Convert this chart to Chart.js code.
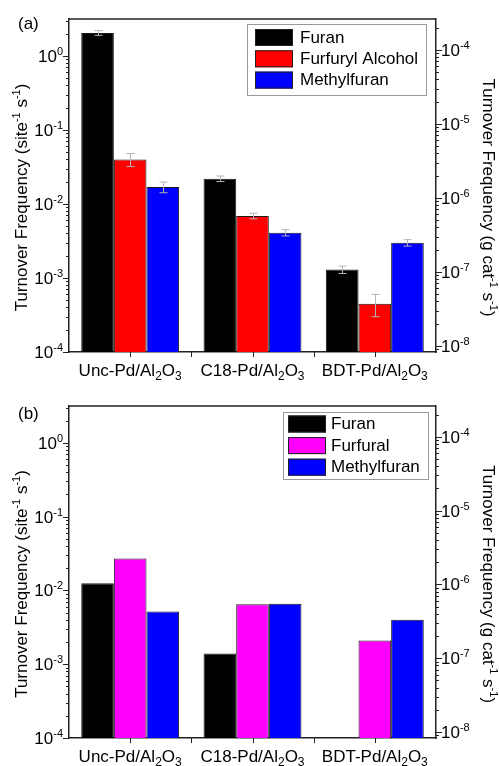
<!DOCTYPE html>
<html>
<head>
<meta charset="utf-8">
<script src="https://cdn.jsdelivr.net/npm/chart.js@4.4.1/dist/chart.umd.min.js"></script>
<style>
  body { margin: 0; background: #fff; }
  canvas { display: block; }
</style>
</head>
<body>
<canvas id="chartA" width="499" height="383"></canvas>
<canvas id="chartB" width="499" height="383"></canvas>
<script>
// categories (catalysts)
const catalysts = ['Unc-Pd/Al₂O₃', 'C18-Pd/Al₂O₃', 'BDT-Pd/Al₂O₃'];

// panel (a) - furfuryl alcohol feed, TOF in site-1 s-1
const seriesA = ['Furan', 'Furfuryl Alcohol', 'Methylfuran'];
const furanA = [2.05, 0.022, 0.0013];
const furfurylAlcoholA = [0.040, 0.0069, 0.00045];
const methylfuranA = [0.017, 0.0041, 0.0030];
const furanErrA = [0.15, 0.0019, 0.00015];
const furfurylAlcoholErrA = [0.008, 0.0006, 0.00015];
const methylfuranErrA = [0.0028, 0.0004, 0.0003];

// panel (b) - furfural feed
const seriesB = ['Furan', 'Furfural', 'Methylfuran'];
const furanB = [0.0125, 0.0014, null];
const furfuralB = [0.027, 0.0065, 0.0021];
const methylfuranB = [0.0052, 0.0066, 0.0040];

// axis ranges and titles
const yMin = 1e-4;
const yMax = 3.16;
const massFactor = 8.3e-5; // site-1 s-1 -> g cat-1 s-1 for the right axis
const leftTitle = 'Turnover Frequency (site⁻¹ s⁻¹)';
const rightTitle = 'Turnover Frequency (g cat⁻¹ s⁻¹)';

const colorsA = ['#000000', '#ff0000', '#0000ff'];
const colorsB = ['#000000', '#ff00ff', '#0000ff'];
const FONT = 'Liberation Sans, Arial, DejaVu Sans, sans-serif';

const SUP = {'-': '⁻', '0': '⁰', '1': '¹', '2': '²', '3': '³', '4': '⁴', '5': '⁵', '6': '⁶', '7': '⁷', '8': '⁸', '9': '⁹'};
function powerLabel(value) {
  const e = Math.log10(value);
  const r = Math.round(e);
  if (Math.abs(e - r) > 1e-6) return '';
  return '10' + String(r).split('').map(c => SUP[c]).join('');
}

// unicode super/subscript chars -> drawn as small raised/lowered text (Origin style)
const SCRIPT = {};
'⁰¹²³⁴⁵⁶⁷⁸⁹'.split('').forEach((c, i) => { SCRIPT[c] = [String(i), 1]; });
'₀₁₂₃₄₅₆₇₈₉'.split('').forEach((c, i) => { SCRIPT[c] = [String(i), -1]; });
SCRIPT['⁻'] = ['-', 1];

function splitScripts(text) {
  const segs = [];
  for (const ch of text) {
    const s = SCRIPT[ch];
    const kind = s ? s[1] : 0;
    const c = s ? s[0] : ch;
    const last = segs[segs.length - 1];
    if (last && last.kind === kind) last.text += c;
    else segs.push({ text: c, kind: kind });
  }
  return segs;
}

function drawScripted(ctx, text, x, y, align) {
  const segs = splitScripts(text);
  const fontFor = k => (k === 0 ? 17 : k === 1 ? 11 : 12) + 'px ' + FONT;
  let w = 0;
  segs.forEach(s => {
    ctx.font = fontFor(s.kind);
    s.w = ctx.measureText(s.text).width;
    w += s.w;
  });
  let cx = align === 'right' ? x - w : align === 'center' ? x - w / 2 : x;
  ctx.textAlign = 'left';
  ctx.textBaseline = 'alphabetic';
  segs.forEach(s => {
    ctx.font = fontFor(s.kind);
    ctx.fillText(s.text, cx, y + (s.kind === 1 ? -7 : s.kind === -1 ? 4 : 0));
    cx += s.w;
  });
}

// tick labels and axis titles with real super/subscripts
const scriptText = {
  id: 'scriptText',
  afterDraw(chart, args, opts) {
    const {ctx, chartArea: a, scales} = chart;
    ctx.save();
    ctx.fillStyle = '#000';
    scales.y.ticks.forEach(t => {
      if (t.label) drawScripted(ctx, t.label, a.left - 6, scales.y.getPixelForValue(t.value) + 6, 'right');
    });
    scales.y2.ticks.forEach(t => {
      if (t.label) drawScripted(ctx, t.label, a.right + 5, scales.y2.getPixelForValue(t.value) + 6, 'left');
    });
    chart.data.labels.forEach((lab, i) => {
      drawScripted(ctx, lab, scales.x.getPixelForTick(i), a.bottom + 23.5, 'center');
    });
    const midY = (a.top + a.bottom) / 2 + opts.titleShift;
    ctx.save();
    ctx.translate(27, midY);
    ctx.rotate(-Math.PI / 2);
    drawScripted(ctx, leftTitle, 0, 0, 'center');
    ctx.restore();
    ctx.save();
    ctx.translate(483, midY);
    ctx.rotate(Math.PI / 2);
    drawScripted(ctx, rightTitle, 0, 0, 'center');
    ctx.restore();
    ctx.restore();
  }
};

// outward tick marks on both log axes + category ticks, and the top frame line
const axisDecor = {
  id: 'axisDecor',
  afterDraw(chart) {
    const {ctx, chartArea: a, scales} = chart;
    ctx.save();
    ctx.strokeStyle = '#222';
    ctx.lineWidth = 1.5;
    ctx.beginPath();
    ctx.moveTo(a.left, a.top);
    ctx.lineTo(a.right, a.top);
    ctx.stroke();
    ctx.lineWidth = 1;
    ['y', 'y2'].forEach(id => {
      const s = scales[id];
      const dir = s.position === 'left' ? -1 : 1;
      const x0 = dir < 0 ? a.left : a.right;
      for (let e = Math.floor(Math.log10(s.min)); e <= Math.ceil(Math.log10(s.max)); e++) {
        for (let m = 1; m <= 9; m++) {
          const v = m * Math.pow(10, e);
          if (v < s.min * 0.999 || v > s.max * 1.001) continue;
          const py = Math.round(s.getPixelForValue(v)) + 0.5;
          const len = m === 1 ? 6 : 3;
          ctx.beginPath();
          ctx.moveTo(x0, py);
          ctx.lineTo(x0 + dir * len, py);
          ctx.stroke();
        }
      }
    });
    const x = scales.x;
    const n = chart.data.labels.length;
    const tickXs = [];
    for (let i = 0; i < n; i++) {
      tickXs.push(x.getPixelForTick(i));
      if (i < n - 1) tickXs.push((x.getPixelForTick(i) + x.getPixelForTick(i + 1)) / 2);
    }
    tickXs.forEach(px => {
      ctx.beginPath();
      ctx.moveTo(Math.round(px) + 0.5, a.bottom);
      ctx.lineTo(Math.round(px) + 0.5, a.bottom + 5);
      ctx.stroke();
    });
    ctx.restore();
  }
};

// thin grey error bars on top of the bars
const errorBars = {
  id: 'errorBars',
  afterDatasetsDraw(chart) {
    const {ctx, scales: {y}} = chart;
    ctx.save();
    ctx.strokeStyle = '#b4b4b4';
    ctx.lineWidth = 1;
    chart.data.datasets.forEach((ds, i) => {
      if (!ds.errors) return;
      chart.getDatasetMeta(i).data.forEach((bar, j) => {
        const v = ds.data[j];
        const err = ds.errors[j];
        if (v == null || !err) return;
        const top = y.getPixelForValue(v + err);
        const bot = y.getPixelForValue(Math.max(v - err, y.min));
        const cx = Math.round(bar.x) + 0.5;
        ctx.beginPath();
        ctx.moveTo(cx, top);
        ctx.lineTo(cx, bot);
        ctx.moveTo(cx - 4, top);
        ctx.lineTo(cx + 4, top);
        ctx.moveTo(cx - 4, bot);
        ctx.lineTo(cx + 4, bot);
        ctx.stroke();
      });
    });
    ctx.restore();
  }
};

// panel letter and the boxed legend inside the plot
const panelDecor = {
  id: 'panelDecor',
  afterDraw(chart, args, opts) {
    const {ctx} = chart;
    ctx.save();
    ctx.fillStyle = '#000';
    ctx.font = '17px ' + FONT;
    ctx.textBaseline = 'middle';
    ctx.textAlign = 'left';
    ctx.fillText(opts.label, opts.labelX, opts.labelY);

    const b = opts.legend;
    ctx.fillStyle = '#fff';
    ctx.fillRect(b.x, b.y, b.w, b.h);
    ctx.strokeStyle = '#999';
    ctx.lineWidth = 1;
    ctx.strokeRect(b.x + 0.5, b.y + 0.5, b.w, b.h);
    chart.data.datasets.forEach((ds, i) => {
      const ry = b.y + b.padTop + i * b.pitch;
      ctx.fillStyle = ds.backgroundColor;
      ctx.fillRect(b.x + b.swX, ry, 38, 17);
      ctx.strokeStyle = '#222';
      ctx.strokeRect(b.x + b.swX + 0.5, ry + 0.5, 37, 16);
      ctx.fillStyle = '#000';
      ctx.fillText(ds.label, b.x + b.textX, ry + 9);
    });
    ctx.restore();
  }
};

function buildChart(canvasId, names, values, errors, colors, decor, padTop, xHeight, titleShift) {
  const datasets = names.map((name, i) => ({
    label: name,
    data: values[i],
    errors: errors ? errors[i] : null,
    backgroundColor: colors[i],
    borderColor: '#1a1a1a',
    borderWidth: 1,
    categoryPercentage: 0.8,
    barPercentage: 1.0,
    yAxisID: 'y'
  }));
  return new Chart(document.getElementById(canvasId), {
    type: 'bar',
    data: { labels: catalysts, datasets: datasets },
    options: {
      responsive: false,
      animation: false,
      layout: { padding: { top: padTop, left: 0, right: 0, bottom: 0 } },
      plugins: {
        legend: { display: false },
        tooltip: { enabled: false },
        panelDecor: decor,
        scriptText: { titleShift: titleShift }
      },
      scales: {
        x: {
          type: 'category',
          offset: true,
          grid: { display: false },
          border: { color: '#222', width: 1.5 },
          ticks: { display: false },
          afterFit(scale) { scale.height = xHeight; }
        },
        y: {
          type: 'logarithmic',
          position: 'left',
          min: yMin,
          max: yMax,
          grid: { display: false },
          border: { color: '#222', width: 1.5 },
          ticks: { display: false, autoSkip: false, callback: powerLabel },
          afterFit(scale) { scale.width = 69; }
        },
        y2: {
          type: 'logarithmic',
          position: 'right',
          min: yMin * massFactor,
          max: yMax * massFactor,
          grid: { display: false },
          border: { color: '#222', width: 1.5 },
          ticks: { display: false, autoSkip: false, callback: powerLabel },
          afterFit(scale) { scale.width = 63; }
        }
      }
    },
    plugins: [errorBars, axisDecor, scriptText, panelDecor]
  });
}

buildChart('chartA', seriesA, [furanA, furfurylAlcoholA, methylfuranA],
  [furanErrA, furfurylAlcoholErrA, methylfuranErrA], colorsA,
  { label: '(a)', labelX: 18, labelY: 24,
    legend: { x: 247, y: 24, w: 179, h: 71, swX: 8, padTop: 5, pitch: 21.3, textX: 53 } },
  19, 31, 12);

buildChart('chartB', seriesB, [furanB, furfuralB, methylfuranB], null, colorsB,
  { label: '(b)', labelX: 18, labelY: 31,
    legend: { x: 283, y: 29, w: 145, h: 67, swX: 5, padTop: 3.5, pitch: 21.6, textX: 48 } },
  23, 28, 12);
</script>
</body>
</html>
